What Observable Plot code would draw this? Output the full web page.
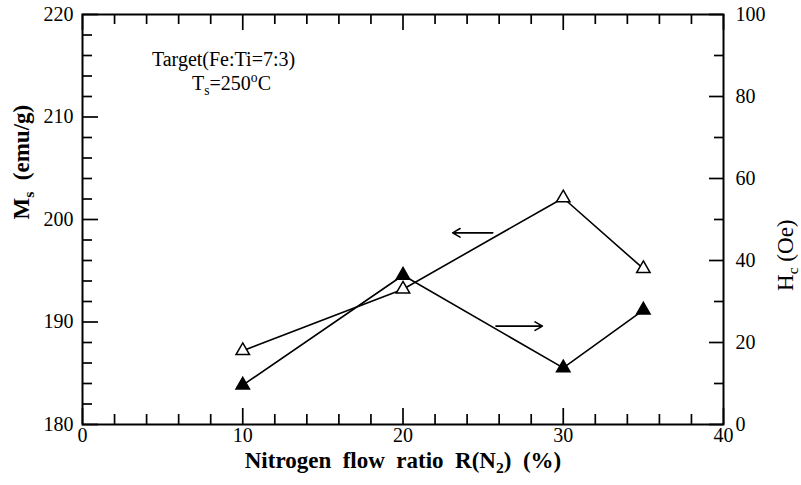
<!DOCTYPE html>
<html><head><meta charset="utf-8">
<script src="https://cdn.jsdelivr.net/npm/d3@7"></script>
<script src="https://cdn.jsdelivr.net/npm/@observablehq/plot@0.6"></script>
<style>
body{margin:0;background:#fff;}
</style></head><body><div id="chart"></div>
<script>
// ---- data ----
const nitrogenRatio = [10, 20, 30, 35];
const msValues = [187.2, 193.2, 202.1, 195.2];
const hcValues = [9.6, 36.4, 13.8, 27.9];

const xMajorTicks = [0, 10, 20, 30, 40];
const xMinorTicks = [2, 4, 6, 8, 12, 14, 16, 18, 22, 24, 26, 28, 32, 34, 36, 38];
const msMajorTicks = [180, 190, 200, 210, 220];
const msMinorTicks = [182, 184, 186, 188, 192, 194, 196, 198, 202, 204, 206, 208, 212, 214, 216, 218];
const hcMajorTicks = [0, 20, 40, 60, 80, 100];
const hcMinorTicks = [10, 30, 50, 70, 90];

const noteTexts = ["Target(Fe:Ti=7:3)", "Ts=250°C"];
const noteX = [8.8, 9.3];
const noteY = [215.6, 213.3];

const arrowX1 = [25.6, 25.8];
const arrowX2 = [23.1, 28.7];
const arrowY = [198.7, 189.6];

const xTitle = "Nitrogen  flow  ratio  R(N2)  (%)";
const msTitle = "Ms  (emu/g)";
const hcTitle = "Hc (Oe)";

// right axis (Hc, 0–100) shares the frame with the left axis (Ms, 180–220)
const msDomain = [180, 220];
const hcDomain = [0, 100];
const hcToMs = d3.scaleLinear(hcDomain, msDomain);

// ---- build tables ----
const msData = nitrogenRatio.map((x, i) => ({x, y: msValues[i]}));
const hcData = nitrogenRatio.map((x, i) => ({x, y: hcToMs(hcValues[i])}));
const notes = noteTexts.map((t, i) => ({text: t, x: noteX[i], y: noteY[i]}));
const arrows = arrowX1.map((x1, i) => ({x1, x2: arrowX2[i], y: arrowY[i]}));

const W = 801, H = 485;
const mL = 82, mR = 78, mT = 14, mB = 61;
const frameW = W - mL - mR, frameH = H - mT - mB;
const font = "Liberation Serif";
const tickW = 1.7;
const tickC = "black";

// inward tick helpers (rules shortened by insets)
const ticksBottom = (data, len) => Plot.ruleX(data, {x: d => d, insetTop: frameH - len, stroke: tickC, strokeWidth: tickW});
const ticksTop = (data, len) => Plot.ruleX(data, {x: d => d, insetBottom: frameH - len, stroke: tickC, strokeWidth: tickW});
const ticksLeft = (data, len) => Plot.ruleY(data, {y: d => d, insetRight: frameW - len, stroke: tickC, strokeWidth: tickW});
const ticksRight = (data, len) => Plot.ruleY(data, {y: d => d, insetLeft: frameW - len, stroke: tickC, strokeWidth: tickW});

const chart = Plot.plot({
  width: W, height: H, marginLeft: mL, marginRight: mR, marginTop: mT, marginBottom: mB,
  x: {domain: [0, 40], axis: null},
  y: {domain: msDomain, axis: null},
  marks: [
    Plot.axisX(xMajorTicks, {anchor: "bottom", tickSize: 0, tickPadding: 3, fontSize: 20, fontFamily: font, label: null}),
    Plot.axisY(msMajorTicks, {anchor: "left", tickSize: 0, tickPadding: 9, fontSize: 20, fontFamily: font, label: null}),
    Plot.axisY(hcMajorTicks.map(hcToMs), {anchor: "right", tickSize: 0, tickPadding: 12, fontSize: 20, fontFamily: font, label: null,
      tickFormat: d => Math.round(hcToMs.invert(d))}),
    ticksBottom(xMajorTicks, 16),
    ticksBottom(xMinorTicks, 10),
    ticksTop(xMajorTicks, 16),
    ticksTop(xMinorTicks, 10),
    ticksLeft(msMajorTicks, 16),
    ticksLeft(msMinorTicks, 10),
    ticksRight(hcMajorTicks.map(hcToMs), 14),
    ticksRight(hcMinorTicks.map(hcToMs), 9),
    Plot.frame({stroke: "black", strokeWidth: 2}),
    Plot.line(msData, {x: "x", y: "y", stroke: "black", strokeWidth: 1.6}),
    Plot.line(hcData, {x: "x", y: "y", stroke: "black", strokeWidth: 1.6}),
    Plot.dot(msData, {x: "x", y: "y", symbol: "triangle", r: 5, fill: "white", stroke: "black", strokeWidth: 1.5}),
    Plot.dot(hcData, {x: "x", y: "y", symbol: "triangle", r: 5, fill: "black", stroke: "black", strokeWidth: 1.5}),
    Plot.arrow(arrows, {x1: "x1", x2: "x2", y1: "y", y2: "y", stroke: "black", strokeWidth: 1.6, headLength: 8}),
    Plot.text(notes, {x: "x", y: "y", text: "text", fontSize: 20, fontFamily: font}),
    Plot.text([xTitle], {frameAnchor: "bottom", dy: 43, text: d => d, fontSize: 23, fontWeight: "bold", fontFamily: font}),
    Plot.text([msTitle], {frameAnchor: "left", dx: -61, rotate: -90, text: d => d, fontSize: 23, fontWeight: "bold", fontFamily: font}),
    Plot.text([hcTitle], {frameAnchor: "right", dx: 62, rotate: -90, text: d => d, fontSize: 23, fontFamily: font})
  ]
});

// rich text (subscripts / superscripts)
const richText = {
  "Ts=250°C": [["T"], ["s", "sub"], ["=250"], ["o", "sup"], ["C"]],
  [msTitle]: [["M"], ["s", "sub"], ["  (emu/g)"]],
  [xTitle]: [["Nitrogen  flow  ratio  R(N"], ["2", "sub"], [")  (%)"]],
  [hcTitle]: [["H"], ["c", "sub"], [" (Oe)"]]
};
function enrich(svg) {
  const ns = "http://www.w3.org/2000/svg";
  svg.querySelectorAll("text").forEach(t => {
    const parts = richText[t.textContent];
    if (!parts) return;
    t.textContent = "";
    let shift = 0;
    for (const [s, kind] of parts) {
      const ts = document.createElementNS(ns, "tspan");
      const target = kind === "sub" ? 5 : kind === "sup" ? -8 : 0;
      if (target - shift !== 0) ts.setAttribute("dy", target - shift);
      shift = target;
      if (kind) ts.setAttribute("font-size", "68%");
      ts.textContent = s;
      t.appendChild(ts);
    }
  });
}
enrich(chart);
document.getElementById("chart").appendChild(chart);
</script>
</body></html>
